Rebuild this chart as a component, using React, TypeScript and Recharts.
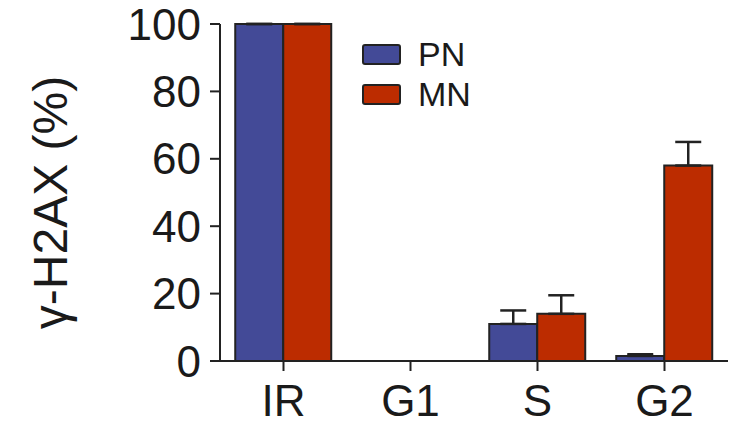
import { BarChart, Bar, XAxis, YAxis, Legend, ErrorBar } from 'recharts';

const categories = ['IR', 'G1', 'S', 'G2'];
const seriesNames = ['PN', 'MN'];
const pnValues = [100, 0, 11, 1.5];
const mnValues = [100, 0, 14, 58];
const pnErrors = [0, 0, 4, 0.5];
const mnErrors = [0, 0, 5.5, 7];
const yTicks = [0, 20, 40, 60, 80, 100];

const PN_COLOR = '#434a97';
const MN_COLOR = '#bc2c00';
const INK = '#222';
const FONT = '"Liberation Sans", Arial, Helvetica, sans-serif';

// errors only go up, so the low side is 0
const data = categories.map((name, i) => ({
    name,
    PN: pnValues[i],
    MN: mnValues[i],
    pnErr: [0, pnErrors[i]],
    mnErr: [0, mnErrors[i]],
}));

function LegendBox({ payload }: { payload?: Array<{ value: string; color: string }> }) {
    if (!payload) return null;
    const items = [...payload].sort((a, b) => seriesNames.indexOf(a.value) - seriesNames.indexOf(b.value));
    return (
        <div style={{ fontFamily: FONT }}>
            {items.map((p) => (
                <div key={p.value} style={{ display: 'flex', alignItems: 'center', height: 40 }}>
                    <span
                        style={{
                            display: 'inline-block',
                            width: 35,
                            height: 17,
                            background: p.color,
                            border: `2px solid ${INK}`,
                            borderRadius: 3,
                            marginRight: 17,
                        }}
                    />
                    <span style={{ fontSize: 34, color: '#1a1a1a', lineHeight: '40px' }}>{p.value}</span>
                </div>
            ))}
        </div>
    );
}

function YLabel({ viewBox }: { viewBox?: { x: number; y: number; width: number; height: number } }) {
    if (!viewBox) return null;
    const x = 67;
    const y = viewBox.y + viewBox.height / 2 + 10;
    return (
        <text
            x={x}
            y={y}
            transform={`rotate(-90, ${x}, ${y})`}
            textAnchor="middle"
            fontSize={48}
            fontFamily={FONT}
            fill="#1a1a1a"
        >
            γ-H2AX (%)
        </text>
    );
}

export default function App() {
    return (
        <div style={{ position: 'absolute', left: 0, top: 0, background: '#fff' }}>
            <BarChart
                width={742}
                height={425}
                data={data}
                margin={{ top: 24, right: 14, left: 0, bottom: 0 }}
                barCategoryGap="12%"
                barGap={0}
            >
                <XAxis
                    dataKey="name"
                    height={64}
                    axisLine={{ stroke: INK, strokeWidth: 2 }}
                    tickLine={{ stroke: INK, strokeWidth: 2 }}
                    tickSize={10}
                    tickMargin={14}
                    tick={{ fill: '#1a1a1a', fontSize: 44, fontFamily: FONT }}
                />
                <YAxis
                    width={220}
                    domain={[0, 100]}
                    ticks={yTicks}
                    interval={0}
                    axisLine={{ stroke: INK, strokeWidth: 2 }}
                    tickLine={{ stroke: INK, strokeWidth: 2 }}
                    tickSize={10}
                    tickMargin={9}
                    tick={{ fill: '#1a1a1a', fontSize: 44, fontFamily: FONT }}
                    label={<YLabel />}
                />
                <Legend
                    layout="vertical"
                    align="center"
                    verticalAlign="middle"
                    content={<LegendBox />}
                    wrapperStyle={{ left: 362, top: 34, width: 150 }}
                />
                <Bar dataKey="PN" fill={PN_COLOR} stroke={INK} strokeWidth={2} isAnimationActive={false}>
                    <ErrorBar dataKey="pnErr" width={13} stroke={INK} strokeWidth={2.5} isAnimationActive={false} />
                </Bar>
                <Bar dataKey="MN" fill={MN_COLOR} stroke={INK} strokeWidth={2} isAnimationActive={false}>
                    <ErrorBar dataKey="mnErr" width={13} stroke={INK} strokeWidth={2.5} isAnimationActive={false} />
                </Bar>
            </BarChart>
        </div>
    );
}
